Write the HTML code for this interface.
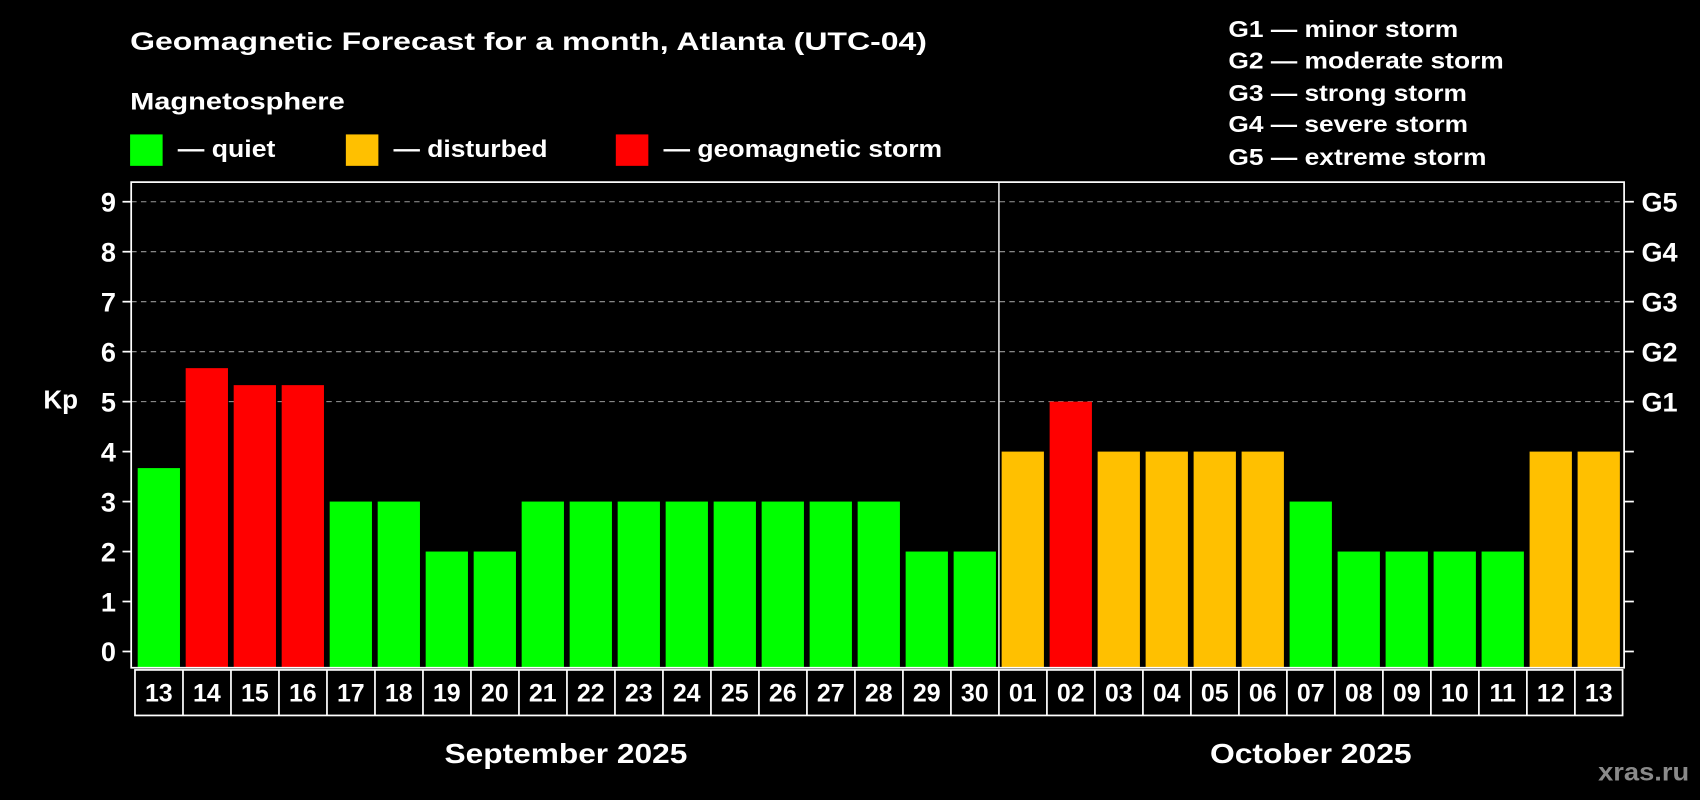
<!DOCTYPE html>
<html><head><meta charset="utf-8"><style>
html,body{margin:0;padding:0;background:#000;}
svg{display:block;font-family:"Liberation Sans",sans-serif;font-weight:bold;}
</style></head><body>
<svg id="chart" width="1700" height="800" viewBox="0 0 1568 738" preserveAspectRatio="none">
<rect x="0" y="0" width="1568" height="738" fill="#000"/>
<text x="120" y="46" font-size="23" fill="#fff" textLength="735" lengthAdjust="spacingAndGlyphs">Geomagnetic Forecast for a month, Atlanta (UTC-04)</text>
<text x="120" y="101" font-size="22" fill="#fff" textLength="198" lengthAdjust="spacingAndGlyphs">Magnetosphere</text>
<g>
<rect x="120" y="124" width="30" height="29" fill="#00ff00"/>
<text x="164" y="145" font-size="22" fill="#fff" textLength="90" lengthAdjust="spacingAndGlyphs">— quiet</text>
<rect x="319" y="124" width="30" height="29" fill="#ffc000"/>
<text x="363" y="145" font-size="22" fill="#fff" textLength="142" lengthAdjust="spacingAndGlyphs">— disturbed</text>
<rect x="568" y="124" width="30" height="29" fill="#ff0000"/>
<text x="612" y="145" font-size="22" fill="#fff" textLength="257" lengthAdjust="spacingAndGlyphs">— geomagnetic storm</text>
</g>
<g font-size="21" fill="#fff">
<text x="1133" y="34" textLength="212" lengthAdjust="spacingAndGlyphs">G1 — minor storm</text>
<text x="1133" y="63" textLength="254" lengthAdjust="spacingAndGlyphs">G2 — moderate storm</text>
<text x="1133" y="93" textLength="220" lengthAdjust="spacingAndGlyphs">G3 — strong storm</text>
<text x="1133" y="122" textLength="221" lengthAdjust="spacingAndGlyphs">G4 — severe storm</text>
<text x="1133" y="152" textLength="238" lengthAdjust="spacingAndGlyphs">G5 — extreme storm</text>
</g>
<g id="grid"></g>
<g id="bars"></g>
<g id="axes"></g>
<text x="40" y="377" font-size="24" fill="#fff">Kp</text>
<text x="410" y="704" font-size="26" fill="#fff" textLength="224" lengthAdjust="spacingAndGlyphs">September 2025</text>
<text x="1116" y="704" font-size="26" fill="#fff" textLength="186" lengthAdjust="spacingAndGlyphs">October 2025</text>
<text x="1474" y="720" font-size="23" fill="#8a8a8a" textLength="84" lengthAdjust="spacingAndGlyphs">xras.ru</text>
</svg>
<script>
const days = ["13","14","15","16","17","18","19","20","21","22","23","24","25","26","27","28","29","30","01","02","03","04","05","06","07","08","09","10","11","12","13"];
const kpValues = [3.67,5.67,5.33,5.33,3,3,2,2,3,3,3,3,3,3,3,3,2,2,4,5,4,4,4,4,3,2,2,2,2,4,4];
const yTicks = [0,1,2,3,4,5,6,7,8,9];
const gLabels = ["G1","G2","G3","G4","G5"];
const gLevels = [5,6,7,8,9];
const monthBreakIndex = 18;

const NS = "http://www.w3.org/2000/svg";
const plotL = 121, plotR = 1498, plotT = 168, plotB = 616;
const y0 = 601, unit = 46.1;
const barStart = 127, pitch = 44.27, barW = 39;
function yScale(v){ return y0 - v*unit; }
function xScale(i){ return barStart + i*pitch; }
function colorFor(v){ return v >= 5 ? "#ff0000" : (v >= 4 ? "#ffc000" : "#00ff00"); }
function mk(tag, attrs, parent){ const e = document.createElementNS(NS, tag); for (const k in attrs) e.setAttribute(k, attrs[k]); parent.appendChild(e); return e; }

const grid = document.getElementById("grid");
const bars = document.getElementById("bars");
const axes = document.getElementById("axes");

gLevels.forEach(v => {
  const l = mk("line", {x1: plotL, x2: plotR, y1: yScale(v), y2: yScale(v), stroke: "#9a9a9a", "stroke-width": 1, "stroke-dasharray": "5,4"}, grid);
  
  
});

kpValues.forEach((v, i) => {
  const r = mk("rect", {x: xScale(i), y: yScale(v), width: barW, height: plotB - yScale(v), fill: colorFor(v)}, bars);
  
  
});

const frame = mk("rect", {x: plotL, y: plotT, width: plotR - plotL, height: plotB - plotT, fill: "none", stroke: "#fff", "stroke-width": 1.6}, axes);



const divX = xScale(monthBreakIndex) - 2.5;
const dv = mk("line", {x1: divX, x2: divX, y1: plotT, y2: plotB, stroke: "#fff", "stroke-width": 1.3}, axes);



yTicks.forEach(v => {
  const y = yScale(v);
  const t1 = mk("line", {x1: 113, x2: plotL, y1: y, y2: y, stroke: "#fff", "stroke-width": 1.6}, axes);
  
  
  const t2 = mk("line", {x1: plotR, x2: plotR + 9, y1: y, y2: y, stroke: "#fff", "stroke-width": 1.6}, axes);
  
  
  const tx = mk("text", {x: 107, y: y + 9, "font-size": 25, fill: "#fff", "text-anchor": "end"}, axes);
  tx.textContent = String(v);
  
  
});

gLabels.forEach((g, i) => {
  const tx = mk("text", {x: 1514, y: yScale(gLevels[i]) + 9, "font-size": 25, fill: "#fff"}, axes);
  tx.textContent = g;
  
  
});

const boxT = 618, boxB = 660;
const bx1 = xScale(0) - 2.5, bx2 = xScale(days.length - 1) + barW + 2.5;
const box = mk("rect", {x: bx1, y: boxT, width: bx2 - bx1, height: boxB - boxT, fill: "none", stroke: "#fff", "stroke-width": 1.6}, axes);


days.forEach((d, i) => {
  if (i > 0) {
    const x = xScale(i) - 2.5;
    const l = mk("line", {x1: x, x2: x, y1: boxT, y2: boxB, stroke: "#fff", "stroke-width": 1.6}, axes);
    
    
  }
  const tx = mk("text", {x: xScale(i) + barW/2, y: 647, "font-size": 23, fill: "#fff", "text-anchor": "middle"}, axes);
  tx.textContent = d;
  
  
});
</script>
</body></html>
